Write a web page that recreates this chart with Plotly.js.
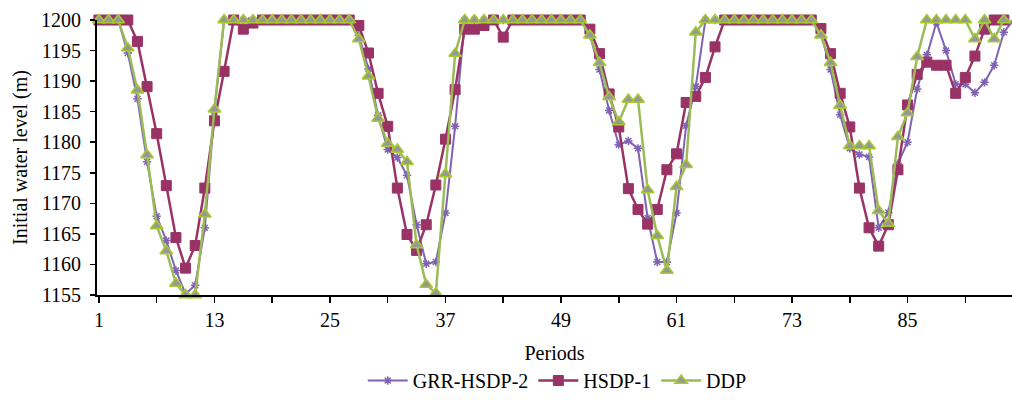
<!DOCTYPE html>
<html>
<head>
<meta charset="utf-8">
<script src="https://cdn.plot.ly/plotly-3.0.1.min.js"></script>
<style>
  html, body { margin: 0; padding: 0; background: #fff; overflow: hidden; }
  #chart { width: 1012px; height: 400px; }
</style>
</head>
<body>
<div id="chart"></div>
<script>
const periods = [1,2,3,4,5,6,7,8,9,10,11,12,13,14,15,16,17,18,19,20,21,22,23,24,25,26,27,28,29,30,31,32,33,34,35,36,37,38,39,40,41,42,43,44,45,46,47,48,49,50,51,52,53,54,55,56,57,58,59,60,61,62,63,64,65,66,67,68,69,70,71,72,73,74,75,76,77,78,79,80,81,82,83,84,85,86,87,88,89,90,91,92,93,94,95,96];

const grrHsdp2 = [1200,1200,1200,1194.6,1187.1,1176.8,1167.9,1163.9,1159.0,1155.2,1156.6,1166.0,1185.0,
  1200,1200,1200,1200,1200,1200,1200,1200,1200,1200,1200,1200,1200,1200,
  1197.5,1192.0,1184.4,1178.8,1177.5,1174.6,1166.5,1160.1,1160.4,1168.4,1182.6,
  1200,1200,1200,1200,1200,1200,1200,1200,1200,1200,1200,1200,1200,
  1197.5,1191.9,1185.2,1179.6,1180.2,1179.0,1167.6,1160.4,1160.4,1168.4,1182.7,1189.1,
  1200,1200,1200,1200,1200,1200,1200,1200,1200,1200,1200,1200,
  1197.8,1191.9,1184.5,1179.0,1178.0,1177.6,1166.0,1168.5,1176.5,1180.0,1188.7,1194.3,
  1199.6,1195.0,1189.5,1189.5,1188.1,1189.8,1192.6,1198.0,1200];

const hsdp1 = [1200,1200,1200,1200,1196.5,1189.1,1181.4,1172.9,1164.4,1159.4,1163.1,1172.5,1183.5,1191.6,
  1200,1198.5,1199.5,1200,1200,1200,1200,1200,1200,1200,1200,1200,1200,
  1199.1,1194.6,1188.0,1182.6,1172.5,1164.9,1162.3,1166.5,1173.0,1180.5,1188.6,
  1198.5,1198.5,1199.1,1200,1197.2,1200,1200,1200,1200,1200,1200,1200,1200,
  1198.5,1194.5,1187.9,1182.5,1172.4,1169.0,1166.6,1169.0,1175.5,1178.1,1186.5,1187.5,1190.6,1195.6,
  1200,1200,1200,1200,1200,1200,1200,1200,1200,1200,
  1198.6,1194.5,1188.0,1182.5,1172.5,1166.0,1163.0,1166.5,1175.5,1186.1,1191.1,
  1193.1,1192.6,1192.6,1188.0,1190.6,1194.1,1198.5,1200,1200,1200];

const ddp = [1200,1200,1200,1195.4,1188.5,1177.9,1166.3,1162.2,1156.9,1155,1155,1168.2,1185.4,
  1200,1200,1200,1200,1200,1200,1200,1200,1200,1200,1200,1200,1200,1200,
  1196.9,1190.8,1183.9,1179.8,1178.8,1176.8,1163.2,1156.7,1155.3,1174.8,1194.5,
  1200,1200,1200,1200,1200,1200,1200,1200,1200,1200,1200,1200,1200,
  1197.5,1193.0,1187.4,1183.3,1187.0,1187.0,1172.2,1164.7,1159.0,1172.7,1176.3,1198.0,
  1200,1200,1200,1200,1200,1200,1200,1200,1200,1200,1200,1200,
  1197.5,1193.0,1186.0,1179.4,1179.4,1179.4,1168.8,1166.7,1180.9,1184.8,1194.0,
  1200,1200,1200,1200,1200,1196.9,1200,1196.9,1200,1200];

const xTickVals = [1,7,13,19,25,31,37,43,49,55,61,67,73,79,85,91];
const xTickText = ["1","","13","","25","","37","","49","","61","","73","","85",""];
const yTickVals = [1155,1160,1165,1170,1175,1180,1185,1190,1195,1200];
const yTickText = ["1155","1160","1165","1170","1175","1180","1185","1190","1195","1200"];

const serif = "'Liberation Serif', 'Times New Roman', serif";

const traces = [
  {
    x: periods, y: grrHsdp2, name: 'GRR-HSDP-2', type: 'scatter', mode: 'lines+markers',
    line: {color: '#7F63B2', width: 2},
    marker: {symbol: 'asterisk-open', size: 7, color: '#7F63B2', line: {color: '#7F63B2', width: 1.5}},
    cliponaxis: false
  },
  {
    x: periods, y: hsdp1, name: 'HSDP-1', type: 'scatter', mode: 'lines+markers',
    line: {color: '#993366', width: 2.5},
    marker: {symbol: 'square', size: 10, color: '#993366', line: {color: '#993366', width: 1}},
    cliponaxis: false
  },
  {
    x: periods, y: ddp, name: 'DDP', type: 'scatter', mode: 'lines+markers',
    line: {color: '#9BBB59', width: 2.5},
    marker: {symbol: 'triangle-up', size: 11, color: '#979797', line: {color: '#A6CB2C', width: 1.5}},
    cliponaxis: false
  }
];

const layout = {
  width: 1012, height: 400,
  margin: {l: 97, r: 0, t: 20, b: 102},
  paper_bgcolor: '#ffffff', plot_bgcolor: '#ffffff',
  font: {family: serif, size: 20, color: '#000'},
  showlegend: true,
  legend: {
    orientation: 'h', x: 0.503, xanchor: 'center', y: -0.313, yanchor: 'middle',
    font: {family: serif, size: 20, color: '#000'},
    itemwidth: 40, tracegroupgap: 0, bgcolor: 'rgba(0,0,0,0)'
  },
  xaxis: {
    range: [0.8, 95.85], tickmode: 'array', tickvals: xTickVals, ticktext: xTickText,
    showline: true, linecolor: '#000', linewidth: 2, mirror: false,
    ticks: 'outside', ticklen: 6, tickwidth: 1.5, tickcolor: '#000',
    showgrid: false, zeroline: false,
    tickfont: {family: serif, size: 20, color: '#000'},
    title: {text: 'Periods', font: {family: serif, size: 20, color: '#000'}, standoff: 16},
    automargin: false
  },
  yaxis: {
    range: [1155, 1200], tickmode: 'array', tickvals: yTickVals, ticktext: yTickText,
    showline: true, linecolor: '#000', linewidth: 2, mirror: false,
    ticks: 'outside', ticklen: 5, tickwidth: 1.5, tickcolor: '#000',
    ticklabelstandoff: 5,
    showgrid: false, zeroline: false,
    tickfont: {family: serif, size: 20, color: '#000'},
    title: {text: 'Initial water level (m)', font: {family: serif, size: 20, color: '#000'}, standoff: 8},
    automargin: false
  }
};

Plotly.newPlot('chart', traces, layout, {displayModeBar: false, staticPlot: true});
</script>
</body>
</html>
